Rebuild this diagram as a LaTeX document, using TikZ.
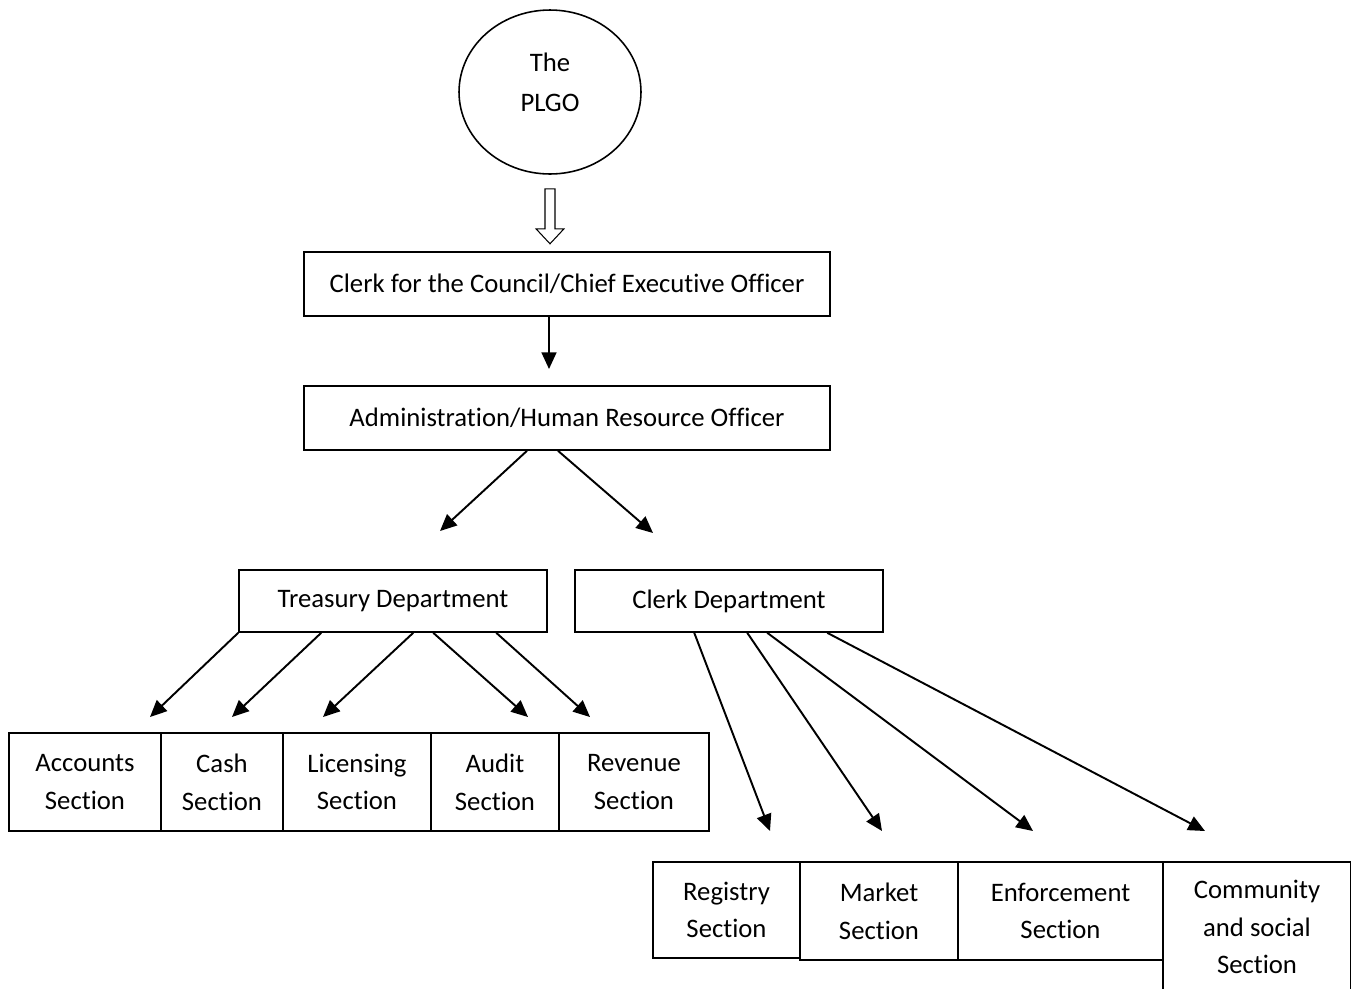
\documentclass[tikz,border=0pt]{standalone}
\usepackage{fontspec}
\setmainfont[Ligatures=NoCommon]{Carlito}
\usetikzlibrary{arrows.meta}
\usetikzlibrary{shapes.geometric}
\usetikzlibrary{calc}

\begin{document}
\begin{tikzpicture}[x=0.02cm, y=-0.02cm, line width=0.9pt,
    font=\fontsize{15.2}{21.5}\selectfont,
    box/.style={draw, align=center, inner sep=0pt},
    sect/.style={box, minimum height=1.96cm},
    arr/.style={line width=1.1pt, -{Triangle[length=9.5pt, width=8.5pt]}}]
  \useasboundingbox (0,0) rectangle (1351,988);
  \node[draw, ellipse, inner sep=0pt, minimum width=3.64cm, minimum height=3.28cm,
    label={[align=center, yshift=0.19cm, font=\fontsize{15.2}{23}\selectfont]center:The\\PLGO}] (plgo) at (550,92) {};
  \draw[line width=0.6pt] ($(plgo.south)+(-5,14)$) -- ++(10,0) -- ++(0,40) -- ++(9,0) -- ++(-14,15) -- ++(-14,-15) -- ++(9,0) -- cycle;
  \node[box, minimum width=10.52cm, minimum height=1.28cm] (ceo) at (567,284) {Clerk for the Council/Chief Executive Officer};
  \node[box, minimum width=10.52cm, minimum height=1.28cm] (admin) at (567,418) {Administration/Human Resource Officer};
  \node[box, minimum width=6.16cm, minimum height=1.24cm] (treas) at (393,601) {Treasury Department};
  \node[box, minimum width=6.16cm, minimum height=1.24cm] (clerkdep) at (729,601) {Clerk Department};
  % treasury sections
  \node[sect, minimum width=3.04cm] (accounts) at (85,782) {Accounts\\Section};
  \node[sect, minimum width=2.44cm] (cash) at (222,782) {Cash\\Section};
  \node[sect, minimum width=2.96cm] (licensing) at (357,782) {Licensing\\Section};
  \node[sect, minimum width=2.56cm] (audit) at (495,782) {Audit\\Section};
  \node[sect, minimum width=3.00cm] (revenue) at (634,782) {Revenue\\Section};
  % clerk sections
  \node[sect, minimum width=2.94cm, minimum height=1.92cm] (registry) at (726.5,910) {Registry\\Section};
  \node[sect, minimum width=3.16cm] (market) at (879,911) {Market\\Section};
  \node[sect, minimum width=4.10cm] (enforcement) at (1060.5,911) {Enforcement\\Section};
  \node[sect, minimum width=3.76cm, minimum height=2.6cm] (community) at (1257,927) {Community\\and social\\Section};
  % arrows
  \coordinate (c1) at (549,369);
  \draw[arr] ($(ceo.south)+(-18,0)$) -- (c1);
  \coordinate (d1) at (440,531);
  \coordinate (d2) at (653,533);
  \draw[arr] ($(admin.south)+(-40,0)$) -- (d1);
  \draw[arr] ($(admin.south)+(-9,0)$) -- (d2);
  \foreach \i/\dx/\ex in {1/0/150, 2/83/232, 3/175/323, 4/195/528, 5/258/590} {
    \coordinate (t\i) at (\ex,717);
    \draw[arr] ($(treas.south west)+(\dx,0)$) -- (t\i);
  }
  \foreach \i/\dx/\ex in {1/120/770, 2/173/882, 3/193/1033, 4/253/1205} {
    \coordinate (k\i) at (\ex,831);
    \draw[arr] ($(clerkdep.south west)+(\dx,0)$) -- (k\i);
  }
\end{tikzpicture}
\end{document}
